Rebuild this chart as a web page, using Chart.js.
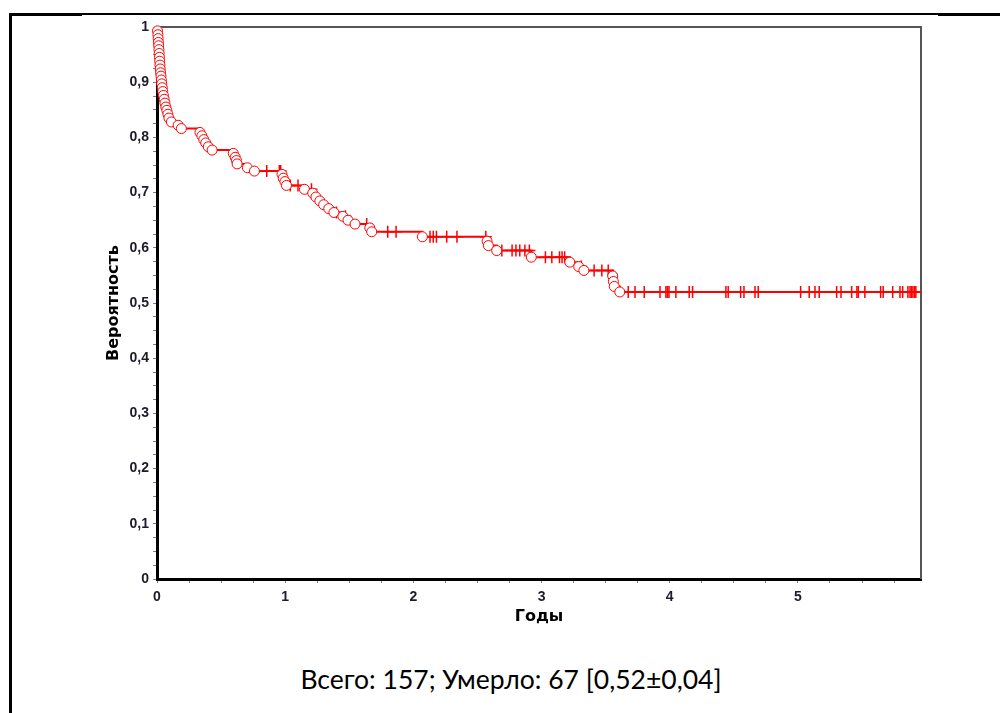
<!DOCTYPE html>
<html>
<head>
<meta charset="utf-8">
<script src="https://cdn.jsdelivr.net/npm/chart.js@4.4.1/dist/chart.umd.min.js"></script>
<style>
  body { margin: 0; background: #fff; width: 1000px; height: 713px; position: relative; overflow: hidden; }
  #wrap { position: absolute; left: 0; top: 0; width: 1000px; height: 640px; }
  .ln { position: absolute; background: #000; }
  #caption { position: absolute; left: 0; width: 1022px; top: 664px; text-align: center;
             font: 26.5px Lato, "Open Sans", sans-serif; line-height: 1.2; color: #000; white-space: nowrap; }
</style>
</head>
<body>
<div class="ln" style="left:9px;top:13px;width:73px;height:3px"></div>
<div class="ln" style="left:82px;top:13px;width:856px;height:2px"></div>
<div class="ln" style="left:938px;top:13px;width:62px;height:3px"></div>
<div class="ln" style="left:9px;top:13px;width:3px;height:700px"></div>
<div id="wrap"><canvas id="km"></canvas></div>
<div id="caption">Всего: 157; Умерло: 67 [0,52±0,04]</div>
<script>
// events (complete observations) - circles
var eventTimes = [0.004, 0.007, 0.009, 0.011, 0.013, 0.015, 0.017, 0.019, 0.021, 0.023,
  0.025, 0.028, 0.031, 0.034, 0.037, 0.041, 0.045, 0.050, 0.056, 0.062,
  0.069, 0.077, 0.085, 0.093, 0.112,
  0.165, 0.19,
  0.335, 0.35, 0.365, 0.38, 0.40, 0.43,
  0.595, 0.61, 0.62, 0.625, 0.705, 0.76,
  0.975, 0.985, 0.998, 1.01,
  1.15, 1.215, 1.24, 1.27, 1.30, 1.34, 1.38, 1.45, 1.49, 1.545, 1.66, 1.675,
  2.07,
  2.575, 2.585, 2.65,
  2.92,
  3.22, 3.29, 3.33,
  3.555, 3.56, 3.567, 3.61];
var eventSurv = [0.993, 0.986, 0.979, 0.972, 0.966, 0.959, 0.952, 0.945, 0.938, 0.931,
  0.924, 0.917, 0.911, 0.904, 0.897, 0.890, 0.883, 0.876, 0.869, 0.862,
  0.855, 0.849, 0.842, 0.835, 0.828,
  0.822, 0.816,
  0.809, 0.803, 0.796, 0.790, 0.783, 0.777,
  0.771, 0.764, 0.758, 0.752, 0.745, 0.739,
  0.733, 0.726, 0.720, 0.713,
  0.706, 0.699, 0.692, 0.685, 0.678, 0.671, 0.664, 0.657, 0.650, 0.643, 0.636, 0.629,
  0.620,
  0.612, 0.604, 0.595,
  0.583,
  0.574, 0.566, 0.559,
  0.549, 0.539, 0.530, 0.520];
// censored observations - crosses
var censorTimes = [0.856, 0.954, 0.965, 1.04, 1.10, 1.205, 1.40, 1.47, 1.636, 1.80, 1.865,
  2.13, 2.155, 2.18, 2.26, 2.34, 2.565, 2.69, 2.77, 2.80, 2.83, 2.87, 2.905,
  3.03, 3.08, 3.14, 3.16, 3.18, 3.31, 3.41, 3.47, 3.52,
  3.676, 3.729, 3.801, 3.924, 3.970, 3.982, 3.994, 4.048, 4.152, 4.178,
  4.438, 4.456, 4.553, 4.579, 4.665, 4.690, 5.021, 5.088, 5.133, 5.166,
  5.302, 5.336, 5.419, 5.460, 5.471, 5.522, 5.645, 5.665, 5.739, 5.796,
  5.817, 5.858, 5.874, 5.885, 5.897, 5.91, 5.92];
var lastTime = 5.92;
var xTicks = [0, 1, 2, 3, 4, 5];
var yTicks = [0, 0.1, 0.2, 0.3, 0.4, 0.5, 0.6, 0.7, 0.8, 0.9, 1];

function survAt(t) {
  var s = 1;
  for (var i = 0; i < eventTimes.length; i++) {
    if (eventTimes[i] <= t) s = eventSurv[i];
  }
  return s;
}

var linePts = [{ x: 0, y: 1 }];
var eventPts = [];
for (var i = 0; i < eventTimes.length; i++) {
  linePts.push({ x: eventTimes[i], y: eventSurv[i] });
  eventPts.push({ x: eventTimes[i], y: eventSurv[i] });
}
linePts.push({ x: lastTime, y: eventSurv[eventSurv.length - 1] });
var censorPts = censorTimes.map(function (t) { return { x: t, y: survAt(t) }; });

function comma(v) { return String(v).replace(".", ","); }

var frame = {
  id: "frame",
  beforeDatasetsDraw: function (chart) {
    var a = chart.chartArea, c = chart.ctx;
    c.save();
    c.strokeStyle = "#555";
    c.lineWidth = 2;
    c.beginPath();
    c.moveTo(a.left, a.top);
    c.lineTo(a.right, a.top);
    c.lineTo(a.right, a.bottom);
    c.stroke();
    c.restore();
  }
};

var tickFont = { family: "Liberation Sans, Arial, sans-serif", size: 14, weight: "bold" };
var titleFont = { family: "DejaVu Sans, sans-serif", size: 16, weight: "bold" };

var ctx = document.getElementById("km").getContext("2d");
var chart = new Chart(ctx, {
  type: "line",
  data: {
    datasets: [
      {
        label: "events",
        data: eventPts,
        showLine: false,
        pointStyle: "circle",
        pointRadius: 5,
        pointBorderWidth: 1,
        pointBorderColor: "#ff0000",
        pointBackgroundColor: "#ffffff",
        clip: false,
        order: 1
      },
      {
        label: "censored",
        data: censorPts,
        showLine: false,
        pointStyle: "cross",
        pointRadius: 6,
        pointBorderWidth: 1.5,
        pointBorderColor: "#ff0000",
        clip: false,
        order: 2
      },
      {
        label: "KM",
        data: linePts,
        stepped: true,
        borderColor: "#ff0000",
        borderWidth: 2,
        pointRadius: 0,
        fill: false,
        clip: false,
        order: 3
      }
    ]
  },
  options: {
    responsive: true,
    maintainAspectRatio: false,
    animation: false,
    layout: { padding: { left: 100, right: 79, top: 27, bottom: 0 } },
    plugins: { legend: { display: false }, tooltip: { enabled: false } },
    scales: {
      x: {
        type: "linear",
        min: 0,
        max: 5.96,
        afterFit: function (s) { s.height = 61; },
        border: { display: true, color: "#000", width: 3 },
        grid: { drawOnChartArea: false, drawTicks: true, tickLength: 4, tickColor: "#808080" },
        ticks: {
          stepSize: 0.25,
          includeBounds: false,
          autoSkip: false,
          maxRotation: 0,
          padding: 6,
          color: "#1c1c2a",
          font: tickFont,
          callback: function (v) { return xTicks.indexOf(v) >= 0 ? String(v) : ""; }
        },
        title: { display: true, text: "Годы", color: "#000", font: titleFont, padding: { top: 0, bottom: 14 } }
      },
      y: {
        type: "linear",
        min: 0,
        max: 1,
        afterFit: function (s) { s.width = 57; },
        border: { display: true, color: "#000", width: 3 },
        grid: { drawOnChartArea: false, drawTicks: true, tickLength: 4, tickColor: "#808080" },
        ticks: {
          stepSize: 0.025,
          autoSkip: false,
          padding: 4,
          color: "#1c1c2a",
          font: tickFont,
          callback: function (v) {
            for (var k = 0; k < yTicks.length; k++) {
              if (Math.abs(yTicks[k] - v) < 1e-9) return comma(yTicks[k]);
            }
            return "";
          }
        },
        title: { display: true, text: "Вероятность", color: "#000", font: titleFont, padding: { top: 4, bottom: 0 } }
      }
    }
  },
  plugins: [frame]
});
</script>
</body>
</html>
